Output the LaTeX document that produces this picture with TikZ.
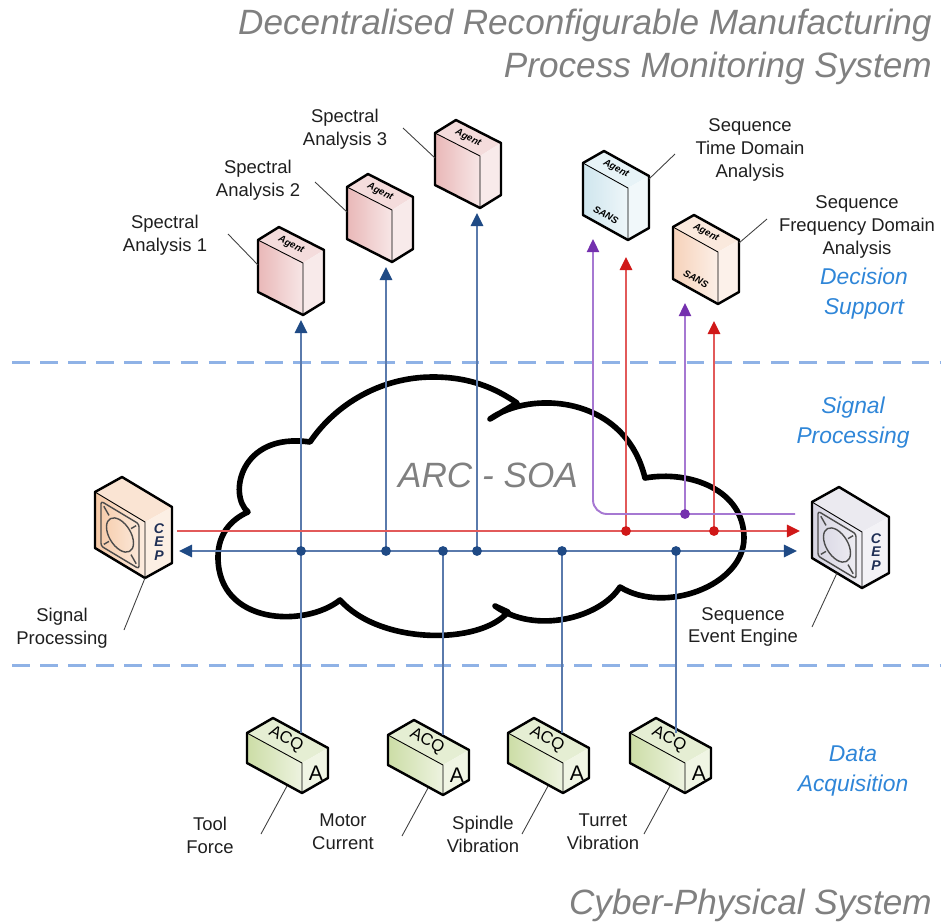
\documentclass[tikz,border=0pt]{standalone}
\usepackage{fontspec}
\setmainfont{Liberation Sans}
\usetikzlibrary{arrows.meta}

\definecolor{busline}{HTML}{5A7AAC}
\definecolor{busdark}{HTML}{1F4A85}
\definecolor{evtline}{HTML}{E25A5A}
\definecolor{evtdark}{HTML}{D01818}
\definecolor{seqline}{HTML}{A678D2}
\definecolor{seqdark}{HTML}{7430AE}
\definecolor{divider}{HTML}{8FB2E6}
\definecolor{zoneblue}{HTML}{2F86D8}
\definecolor{headgray}{HTML}{808080}
\definecolor{agentpink}{HTML}{E9B8B8}
\definecolor{sansblue}{HTML}{CFE6EE}
\definecolor{sanspeach}{HTML}{F6D2BA}
\definecolor{ceppeach}{HTML}{F6C9A6}
\definecolor{cepgray}{HTML}{D6D4E2}
\definecolor{acqgreen}{HTML}{CCDDA6}
\definecolor{cepink}{HTML}{1F2F55}

% isometric box: colour, front edge (ux,uy), height, depth (dx,dy)
\newcommand{\isobox}[6]{%
  \fill[#1!50] (0,0) -- (#5,#6) -- ({#2+#5},{#3+#6}) -- (#2,#3) -- cycle;
  \shade[left color=#1, right color=#1!35] (0,0) -- (#2,#3) -- (#2,{#3+#4}) -- (0,#4) -- cycle;
  \fill[#1!30] (#2,#3) -- ({#2+#5},{#3+#6}) -- ({#2+#5},{#3+#6+#4}) -- (#2,{#3+#4}) -- cycle;
  \draw[line width=0.5pt] (0,0) -- (#2,#3) -- (#2,{#3+#4});
  \draw[boxline] (0,0) -- (#5,#6) -- ({#2+#5},{#3+#6}) -- ({#2+#5},{#3+#6+#4}) -- (#2,{#3+#4}) -- (0,#4) -- cycle;
}

\begin{document}
\begin{tikzpicture}[
    x=0.02cm, y=-0.02cm,
    line join=round,
    boxline/.style={line width=1.4pt},
    cloudline/.style={line width=3.2pt, line join=round},
    divide/.style={draw=divider, line width=1.7pt, dash pattern=on 10pt off 6pt},
    bus/.style={draw=busline, line width=1.3pt},
    evt/.style={draw=evtline, line width=1.3pt},
    seq/.style={draw=seqline, line width=1.1pt},
    leader/.style={draw=black!75, line width=0.5pt},
    lbl/.style={align=center, inner sep=0pt, text=black!88, font=\fontsize{10.5}{13}\selectfont},
    zone/.style={align=center, inner sep=0pt, text=zoneblue, font=\fontsize{13}{17}\selectfont\itshape},
    heading/.style={align=right, inner sep=0pt, text=headgray, font=\fontsize{20}{24.5}\selectfont\itshape},
    tagtext/.style={inner sep=0pt, font=\fontsize{5.5}{6}\selectfont\bfseries\itshape},
    arr/.style={arrows={-Triangle[length=7.5pt,width=7pt,color=#1]}},
    pics/agentbox/.style={code={
      \isobox{#1}{45}{23}{52}{21}{-13}
      \node[tagtext, rotate=-27] (-txt) at (33,5) {Agent};
      \coordinate (-in) at (43,80);
      \coordinate (-tag) at (0,25);
    }},
    pics/sansbox/.style={code={
      \isobox{#1}{45}{25}{52}{21}{-12}
      \node[tagtext, rotate=-28] (-txt) at (33,6) {Agent};
      \node[tagtext, rotate=-29] (-sans) at (23,52) {SANS};
      \coordinate (-ina) at (10,76);
      \coordinate (-inb) at (43,94);
      \coordinate (-tag) at (66,16);
    }},
    pics/cepbox/.style={code={
      \isobox{#1}{50}{30}{56}{27}{-15}
      \begin{scope}[x={(50,30)}, y={(0,56)}, draw=black!70, line width=0.8pt]
        \draw[rounded corners=1.5pt] (0.12,0.1) -- (0.88,0.1) -- (0.88,0.9) -- (0.12,0.9) -- cycle;
        \draw (0.5,0.5) circle[radius=0.27];
        \foreach \s/\t in {0.12/0.1, 0.88/0.1, 0.12/0.9, 0.88/0.9}
          \draw ({\s+(0.5-\s)*0.15},{\t+(0.5-\t)*0.15}) -- ({\s+(0.5-\s)*0.42},{\t+(0.5-\t)*0.42});
      \end{scope}
      \node[inner sep=0pt, align=center, text=cepink,
            font=\fontsize{8}{7.6}\selectfont\bfseries\itshape] (-txt) at (64,50) {C\\E\\P};
      \coordinate (-bot) at (50,86);
      \coordinate (-foot) at (25,71);
    }},
    pics/acqbox/.style={code={
      \isobox{acqgreen}{55}{30}{30}{26}{-15}
      \node[inner sep=0pt, rotate=-28.6, font=\fontsize{9.5}{9.5}\selectfont] (-txt) at (39,6.5) {ACQ};
      \node[inner sep=0pt, font=\fontsize{12}{12}\selectfont] (-side) at (69,40) {A};
      \coordinate (-top) at (54,0);
      \coordinate (-tag) at (40,53);
    }}
  ]
  \useasboundingbox (0,0) rectangle (948,924);

  % layer boundaries
  \draw[divide] (12,362) -- (940,362);
  \draw[divide] (12,665) -- (940,665);

  % the service cloud
  \draw[cloudline] (248,512) .. controls (228,495) and (240,432) .. (310,442)
    .. controls (335,405) and (380,377) .. (433,377)
    .. controls (470,377) and (495,388) .. (517,403) -- (490,419)
    .. controls (530,390) and (625,395) .. (645,478)
    .. controls (690,470) and (744,490) .. (744,538)
    .. controls (744,585) and (665,615) .. (620,587)
    .. controls (600,618) and (535,635) .. (495,606) -- (508,612)
    .. controls (480,645) and (380,645) .. (340,600)
    .. controls (305,628) and (218,625) .. (218,557)
    .. controls (218,535) and (230,520) .. (248,512) -- cycle;

  % agents, event processors, acquisition units
  \pic (sa1) at (258,240) {agentbox=agentpink};
  \pic (sa2) at (347,187) {agentbox=agentpink};
  \pic (sa3) at (435,133) {agentbox=agentpink};
  \pic (st) at (583,163) {sansbox=sansblue};
  \pic (sf) at (673,227) {sansbox=sanspeach};
  \pic (sp) at (95,492) {cepbox=ceppeach};
  \pic (see) at (812,502) {cepbox=cepgray};
  \pic (acq1) at (247,733) {acqbox};
  \pic (acq2) at (388,735) {acqbox};
  \pic (acq3) at (508,733) {acqbox};
  \pic (acq4) at (630,733) {acqbox};

  % bus ends and taps
  \coordinate (busL) at (179,551);
  \coordinate (busR) at (797,551);
  \coordinate (evtL) at (177,531);
  \coordinate (evtR) at (800,531);
  \coordinate (seqR) at (795,514);
  \foreach \n/\x in {1/301,2/386,3/443,4/477,5/562,6/676}
    \coordinate (b\n) at (\x,551);
  \coordinate (r1) at (626,531);
  \coordinate (r2) at (714,531);
  \coordinate (p1) at (685,514);

  % signal bus
  \draw[bus, arrows={Triangle[length=7.5pt,width=7pt,color=busdark]-Triangle[length=7.5pt,width=7pt,color=busdark]}] (busL) -- (busR);
  \draw[bus, arr=busdark] (b1) -- (b1 |- sa1-in);
  \draw[bus, arr=busdark] (b2) -- (b2 |- sa2-in);
  \draw[bus, arr=busdark] (b4) -- (b4 |- sa3-in);
  \draw[bus] (b1) -- (b1 |- acq1-top);
  \draw[bus] (b3) -- (b3 |- acq2-top);
  \draw[bus] (b5) -- (b5 |- acq3-top);
  \draw[bus] (b6) -- (b6 |- acq4-top);

  % event bus
  \draw[evt, arr=evtdark] (evtL) -- (evtR);
  \draw[evt, arr=evtdark] (r1) -- (r1 |- st-inb);
  \draw[evt, arr=evtdark] (r2) -- (r2 |- sf-inb);

  % sequence bus
  \draw[seq, arr=seqdark, rounded corners=8pt] (seqR) -| (st-ina);
  \draw[seq, arr=seqdark] (p1) -- (p1 |- sf-ina);

  \foreach \n in {1,...,6}
    \fill[busdark] (b\n) circle[radius=2.8pt];
  \fill[evtdark] (r1) circle[radius=2.8pt];
  \fill[evtdark] (r2) circle[radius=2.8pt];
  \fill[seqdark] (p1) circle[radius=2.8pt];

  % leaders
  \draw[leader] (sa1-tag) -- ++(-30,-31);
  \draw[leader] (sa2-tag) -- ++(-32,-30);
  \draw[leader] (sa3-tag) -- ++(-32,-30);
  \draw[leader] (st-tag) -- ++(26,-25);
  \draw[leader] (sf-tag) -- ++(28,-24);
  \draw[leader] (sp-bot) -- ++(-21,52);
  \draw[leader] (see-foot) -- ++(-25,54);
  \foreach \a in {1,...,4}
    \draw[leader] (acq\a-tag) -- ++(-26,48);

  % texts
  \node[heading, anchor=east] (title) at (932,47) {Decentralised Reconfigurable Manufacturing\\Process Monitoring System};
  \node[heading, anchor=east] (cps) at (932,905) {Cyber-Physical System};
  \node[heading, align=center] (soa) at (488,475) {ARC - SOA};

  \node[zone] (zds) at (864,294) {Decision\\Support};
  \node[zone] (zsp) at (853,423) {Signal\\Processing};
  \node[zone] (zda) at (853,771) {Data\\Acquisition};

  \node[lbl] (lsa1) at (165,235) {Spectral\\Analysis 1};
  \node[lbl] (lsa2) at (258,180) {Spectral\\Analysis 2};
  \node[lbl] (lsa3) at (345,129) {Spectral\\Analysis 3};
  \node[lbl] (lst) at (750,150) {Sequence\\Time Domain\\Analysis};
  \node[lbl] (lsf) at (857,227) {Sequence\\Frequency Domain\\Analysis};
  \node[lbl] (lsig) at (62,628) {Signal\\Processing};
  \node[lbl] (lsee) at (743,627) {Sequence\\Event Engine};
  \node[lbl] (ltf) at (210,835) {Tool\\Force};
  \node[lbl] (lmc) at (343,832) {Motor\\Current};
  \node[lbl] (lsv) at (483,834) {Spindle\\Vibration};
  \node[lbl] (ltv) at (603,832) {Turret\\Vibration};
\end{tikzpicture}
\end{document}
